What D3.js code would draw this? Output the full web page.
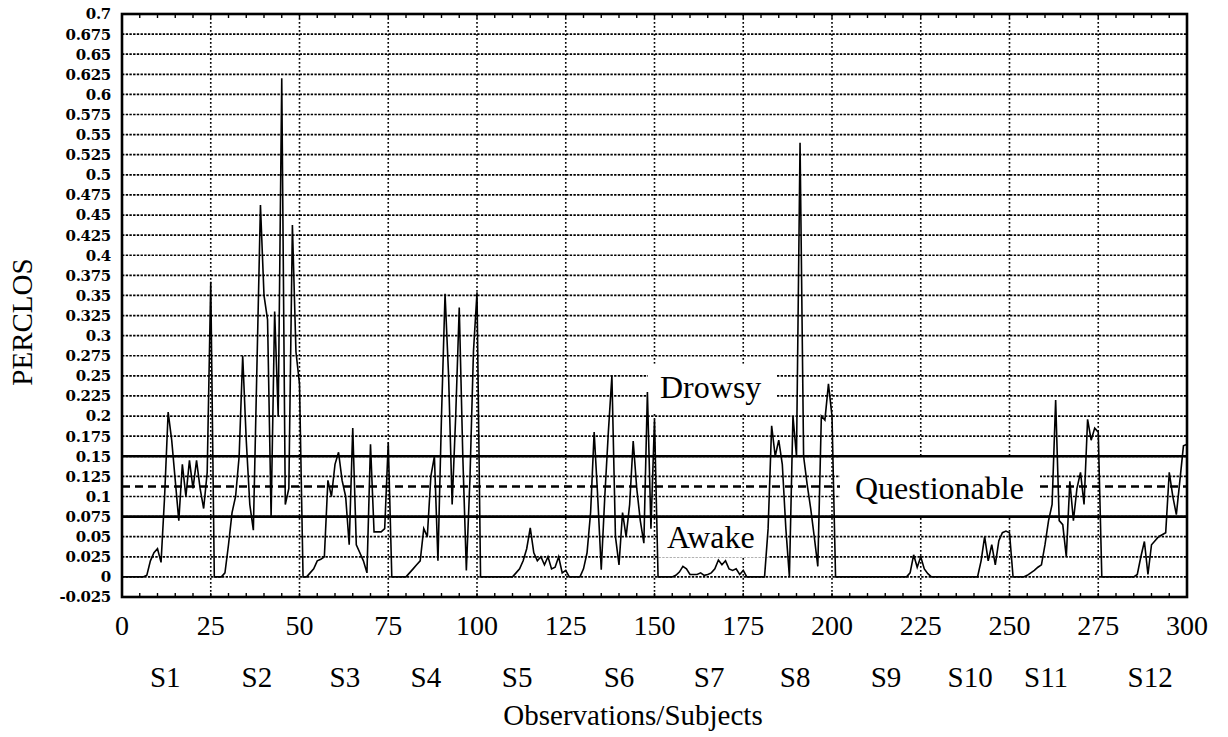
<!DOCTYPE html>
<html>
<head>
<meta charset="utf-8">
<script src="https://cdn.jsdelivr.net/npm/d3@7"></script>
<style>
  body { margin: 0; background: #fff; }
  svg { display: block; }
</style>
</head>
<body>
<div id="chart"></div>
<script>
// PERCLOS per observation, 25 observations per subject
var s1 = [0,0,0,0,0,0,0.002,0.02,0.03,0.035,0.018,0.1,0.205,0.17,0.12,0.07,0.14,0.1,0.145,0.11,0.145,0.11,0.085,0.13,0.367];
var s2 = [0,0,0,0.005,0.04,0.08,0.1,0.15,0.275,0.17,0.09,0.058,0.26,0.4625,0.35,0.32,0.075,0.33,0.2,0.62,0.09,0.11,0.4375,0.28,0.24];
var s3 = [0,0,0.005,0.01,0.02,0.022,0.025,0.12,0.1,0.14,0.155,0.12,0.1,0.04,0.185,0.04,0.03,0.02,0.005,0.165,0.056,0.056,0.056,0.06,0.167];
var s4 = [0,0,0,0,0,0.005,0.01,0.015,0.02,0.06,0.05,0.125,0.15,0.02,0.2,0.352,0.25,0.09,0.2,0.335,0.15,0.008,0.12,0.28,0.354];
var s5 = [0,0,0,0,0,0,0,0,0,0,0.005,0.01,0.02,0.035,0.061,0.03,0.02,0.025,0.015,0.025,0.01,0.012,0.025,0.005,0.008];
var s6 = [0,0,0,0,0.01,0.03,0.08,0.18,0.1,0.009,0.1,0.18,0.25,0.05,0.015,0.08,0.05,0.09,0.169,0.11,0.07,0.042,0.23,0.06,0.196];
var s7 = [0,0,0,0,0,0.002,0.006,0.013,0.01,0.003,0.003,0.003,0.005,0.002,0.003,0.005,0.01,0.021,0.015,0.02,0.01,0.008,0.01,0.003,0.008];
var s8 = [0,0,0,0,0,0,0.06,0.188,0.15,0.17,0.14,0.06,0,0.2,0.15,0.54,0.15,0.115,0.085,0.05,0.013,0.2,0.195,0.24,0.2];
var s9 = [0,0,0,0,0,0,0,0,0,0,0,0,0,0,0,0,0,0,0,0,0,0.005,0.0275,0.012,0.025];
var s10 = [0.01,0.004,0,0,0,0,0,0,0,0,0,0,0,0,0,0,0.02,0.05,0.02,0.04,0.015,0.045,0.055,0.057,0.055];
var s11 = [0,0,0,0,0.002,0.005,0.008,0.012,0.015,0.04,0.07,0.09,0.22,0.07,0.065,0.025,0.119,0.07,0.11,0.13,0.09,0.196,0.17,0.185,0.18];
var s12 = [0,0,0,0,0,0,0,0,0,0,0.003,0.025,0.044,0.003,0.04,0.045,0.05,0.0525,0.055,0.13,0.1,0.0775,0.12,0.163,0.165];

var subjectSeries = [s1, s2, s3, s4, s5, s6, s7, s8, s9, s10, s11, s12];
var subjectNames = ["S1","S2","S3","S4","S5","S6","S7","S8","S9","S10","S11","S12"];
var subjectLabelAt = [12.2, 38, 62.8, 85.6, 111.3, 140, 165.4, 189.6, 215.2, 238.9, 260.3, 289.6];

var xTickValues = [0,25,50,75,100,125,150,175,200,225,250,275,300];
var yTickLabels = ["-0.025","0","0.025","0.05","0.075","0.1","0.125","0.15","0.175","0.2","0.225","0.25",
    "0.275","0.3","0.325","0.35","0.375","0.4","0.425","0.45","0.475","0.5","0.525","0.55","0.575",
    "0.6","0.625","0.65","0.675","0.7"];

var awakeLimit = 0.075;
var drowsyLimit = 0.15;
var questionableLevel = 0.1125;

var width = 1228, height = 737;
var plot = { left: 122, right: 1187, top: 14, bottom: 597 };

var svg = d3.select("#chart").append("svg")
    .attr("width", width)
    .attr("height", height);

svg.append("rect").attr("width", width).attr("height", height).attr("fill", "#fff");

var x = d3.scaleLinear().domain([0, 300]).range([plot.left, plot.right]);
var y = d3.scaleLinear().domain([-0.025, 0.7]).range([plot.bottom, plot.top]);

// observations 1..300, plus the starting point at 0
var points = [{ x: 0, v: 0 }];
subjectSeries.forEach(function (arr, s) {
    arr.forEach(function (v, i) {
        points.push({ x: s * 25 + i + 1, v: v });
    });
});

var serif = "'Liberation Serif', 'Times New Roman', serif";

// dotted grid
var yGrid = yTickLabels.map(Number).filter(function (d) { return d > -0.02 && d < 0.69; });
svg.append("g").selectAll("line").data(yGrid).enter().append("line")
    .attr("x1", plot.left).attr("x2", plot.right)
    .attr("y1", function (d) { return y(d); }).attr("y2", function (d) { return y(d); })
    .attr("stroke", "#000").attr("stroke-width", 1.7)
    .attr("stroke-dasharray", "2.4,1.3");

svg.append("g").selectAll("line").data(xTickValues.filter(function (d) { return d > 0 && d < 300; }))
    .enter().append("line")
    .attr("x1", function (d) { return x(d); }).attr("x2", function (d) { return x(d); })
    .attr("y1", plot.top).attr("y2", plot.bottom)
    .attr("stroke", "#000").attr("stroke-width", 1.6)
    .attr("stroke-dasharray", "1.8,2.2");

// white boxes behind the zone labels
svg.append("rect").attr("x", 648).attr("y", y(0.265))
    .attr("width", 129).attr("height", y(0.205) - y(0.265)).attr("fill", "#fff");
svg.append("rect").attr("x", 840).attr("y", y(drowsyLimit))
    .attr("width", 200).attr("height", y(awakeLimit) - y(drowsyLimit)).attr("fill", "#fff");
svg.append("rect").attr("x", 658).attr("y", y(awakeLimit))
    .attr("width", 110).attr("height", y(0.024) - y(awakeLimit)).attr("fill", "#fff");

// threshold lines
var dashed = [[plot.left, 840], [1040, plot.right]];
svg.append("g").selectAll("line").data(dashed).enter().append("line")
    .attr("x1", function (d) { return d[0]; }).attr("x2", function (d) { return d[1]; })
    .attr("y1", y(questionableLevel)).attr("y2", y(questionableLevel))
    .attr("stroke", "#000").attr("stroke-width", 2.4)
    .attr("stroke-dasharray", "8,5");

svg.append("g").selectAll("line").data([awakeLimit, drowsyLimit]).enter().append("line")
    .attr("x1", plot.left).attr("x2", plot.right)
    .attr("y1", function (d) { return y(d); }).attr("y2", function (d) { return y(d); })
    .attr("stroke", "#000").attr("stroke-width", 2.6);

// PERCLOS curve
var line = d3.line()
    .x(function (d) { return x(d.x); })
    .y(function (d) { return y(d.v); });

svg.append("path").datum(points)
    .attr("d", line)
    .attr("fill", "none")
    .attr("stroke", "#000")
    .attr("stroke-width", 1.6)
    .attr("stroke-linejoin", "miter");

// frame and minor ticks
svg.append("rect")
    .attr("x", plot.left).attr("y", plot.top)
    .attr("width", plot.right - plot.left).attr("height", plot.bottom - plot.top)
    .attr("fill", "none").attr("stroke", "#000").attr("stroke-width", 2.6);

var minor = d3.range(5, 300, 5);
svg.append("g").selectAll("line").data(minor).enter().append("line")
    .attr("x1", function (d) { return x(d); }).attr("x2", function (d) { return x(d); })
    .attr("y1", plot.bottom).attr("y2", plot.bottom - 4)
    .attr("stroke", "#000").attr("stroke-width", 1.4);
svg.append("g").selectAll("line").data(minor).enter().append("line")
    .attr("x1", function (d) { return x(d); }).attr("x2", function (d) { return x(d); })
    .attr("y1", plot.top).attr("y2", plot.top + 4)
    .attr("stroke", "#000").attr("stroke-width", 1.4);

// y tick labels
svg.append("g").selectAll("text").data(yTickLabels).enter().append("text")
    .attr("x", 111)
    .attr("y", function (d) { return y(+d); })
    .attr("dy", "0.36em")
    .attr("text-anchor", "end")
    .style("font-family", "'DejaVu Serif', serif")
    .style("font-weight", "bold")
    .style("font-size", "15px")
    .style("letter-spacing", "-0.3px")
    .text(function (d) { return d; });

// x tick labels
svg.append("g").selectAll("text").data(xTickValues).enter().append("text")
    .attr("x", function (d) { return x(d); })
    .attr("y", 635)
    .attr("text-anchor", "middle")
    .style("font-family", serif)
    .style("font-size", "28px")
    .text(function (d) { return d; });

// subject labels
svg.append("g").selectAll("text").data(subjectNames).enter().append("text")
    .attr("x", function (d, i) { return x(subjectLabelAt[i]); })
    .attr("y", 687)
    .attr("text-anchor", "middle")
    .style("font-family", serif)
    .style("font-size", "29px")
    .text(function (d) { return d; });

svg.append("text")
    .attr("x", 633).attr("y", 725)
    .attr("text-anchor", "middle")
    .style("font-family", serif)
    .style("font-size", "29px")
    .text("Observations/Subjects");

svg.append("text")
    .attr("transform", "translate(32,322) rotate(-90)")
    .attr("text-anchor", "middle")
    .style("font-family", serif)
    .style("font-size", "29px")
    .text("PERCLOS");

// zone labels
var zoneLabels = [
    { text: "Drowsy", x: 660, y: 398 },
    { text: "Questionable", x: 855, y: 499 },
    { text: "Awake", x: 667, y: 548 }
];
svg.append("g").selectAll("text").data(zoneLabels).enter().append("text")
    .attr("x", function (d) { return d.x; })
    .attr("y", function (d) { return d.y; })
    .style("font-family", serif)
    .style("font-size", "32px")
    .text(function (d) { return d.text; });
</script>
</body>
</html>
